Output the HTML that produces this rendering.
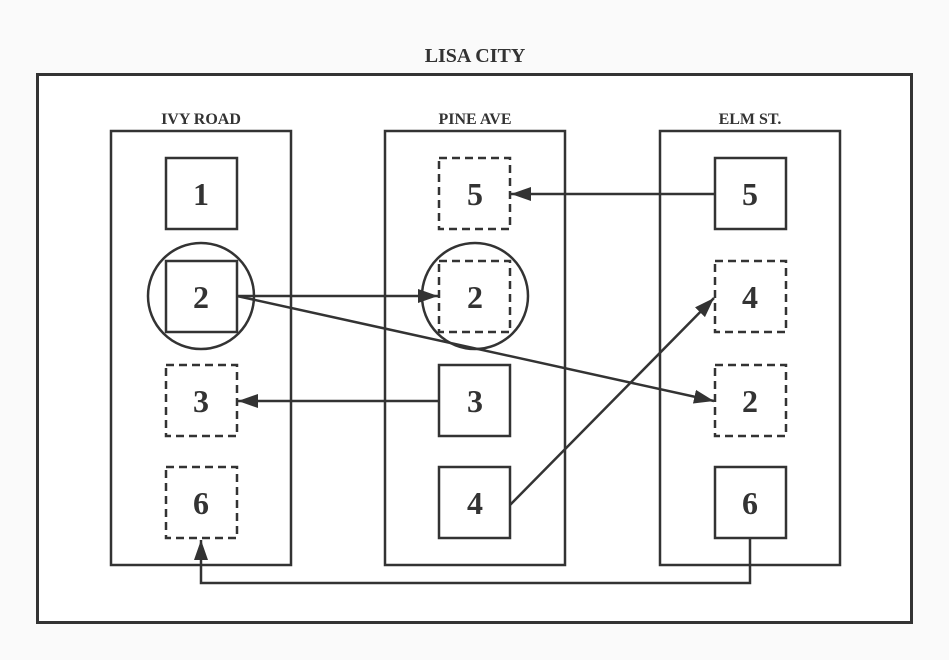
<!DOCTYPE html>
<html><head><style>
html,body{margin:0;padding:0;background:#fafafa;}
svg{display:block;}
text{font-family:"Liberation Serif",serif;font-weight:bold;fill:#333;text-anchor:middle;}
</style></head><body>
<svg width="949" height="660" viewBox="0 0 949 660" xmlns="http://www.w3.org/2000/svg">
<defs>
<marker id="a" markerWidth="12" markerHeight="10" refX="11" refY="5" orient="auto" markerUnits="userSpaceOnUse">
<path d="M0,0 L12,5 L0,10 Z" fill="#333"/></marker>
<marker id="b" markerWidth="22" markerHeight="16" refX="20" refY="8" orient="auto" markerUnits="userSpaceOnUse">
<path d="M0,1 L20,8 L0,15 Z" fill="#333"/></marker>
</defs>
<rect x="0" y="0" width="949" height="660" fill="#fafafa"/>
<text x="475" y="62" font-size="20">LISA CITY</text>
<rect x="37.5" y="74.5" width="874" height="548" fill="#fff" stroke="#333" stroke-width="3"/>
<g fill="none" stroke="#333" stroke-width="2.5">
<rect x="111" y="131" width="180" height="434"/>
<rect x="385" y="131" width="180" height="434"/>
<rect x="660" y="131" width="180" height="434"/>
</g>
<text x="201" y="124" font-size="16">IVY ROAD</text>
<text x="475" y="124" font-size="16">PINE AVE</text>
<text x="750" y="124" font-size="16">ELM ST.</text>
<g fill="none" stroke="#333" stroke-width="2.5">
<circle cx="201" cy="296" r="53"/>
<circle cx="475" cy="296" r="53"/>
<rect x="166" y="158" width="71" height="71"/>
<rect x="166" y="261" width="71" height="71"/>
<rect x="439" y="365" width="71" height="71"/>
<rect x="439" y="467" width="71" height="71"/>
<rect x="715" y="158" width="71" height="71"/>
<rect x="715" y="467" width="71" height="71"/>
<g stroke-dasharray="8,5">
<rect x="166" y="365" width="71" height="71"/>
<rect x="166" y="467" width="71" height="71"/>
<rect x="439" y="158" width="71" height="71"/>
<rect x="439" y="261" width="71" height="71"/>
<rect x="715" y="261" width="71" height="71"/>
<rect x="715" y="365" width="71" height="71"/>
</g>
</g>
<g font-size="32">
<text x="201" y="205">1</text>
<text x="201" y="308">2</text>
<text x="201" y="412">3</text>
<text x="201" y="514">6</text>
<text x="475" y="205">5</text>
<text x="475" y="308">2</text>
<text x="475" y="412">3</text>
<text x="475" y="514">4</text>
<text x="750" y="205">5</text>
<text x="750" y="308">4</text>
<text x="750" y="412">2</text>
<text x="750" y="514">6</text>
</g>
<g fill="none" stroke="#333" stroke-width="2.5" marker-end="url(#b)">
<line x1="715" y1="194" x2="511" y2="194"/>
<line x1="237" y1="296" x2="438" y2="296"/>
<line x1="237" y1="296" x2="714" y2="401"/>
<line x1="439" y1="401" x2="238" y2="401"/>
<line x1="510" y1="505" x2="714" y2="298"/>
<polyline points="750,538 750,583 201,583 201,540"/>
</g>
</svg>
</body></html>
